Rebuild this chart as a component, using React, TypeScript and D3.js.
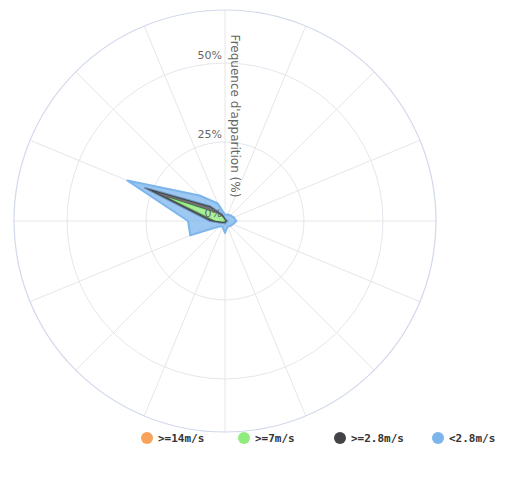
import React from "react";
import * as d3 from "d3";

const directions = ["N","NNE","NE","ENE","E","ESE","SE","SSE","S","SSW","SW","WSW","W","WNW","NW","NNW"];
const seriesNames = [">=14m/s", ">=7m/s", ">=2.8m/s", "<2.8m/s"];
const seriesColors = ["#f7a35c", "#90ed7d", "#434348", "#7cb5ec"];
const orangeValues = [0,0,0,0,0,0,0,0,0,0,0,0,0.1,0.2,0.1,0];
const greenValues = [0.3,0.2,0.2,0.2,0.3,0.2,0.2,0.2,0.3,0.2,0.4,0.6,2.9,19.5,3.4,1.2];
const darkValues = [0.5,0.3,0.3,0.3,0.5,0.3,0.3,0.3,0.5,0.3,0.5,0.9,1.7,7.8,3.1,1.0];
const blueValues = [1.2,1.7,2.0,2.5,2.8,2.2,1.8,1.5,3.0,1.5,1.5,10.4,7.0,6.0,4.8,3.8];
const tickValues = [0, 25, 50];
const yMax = 66.8;
const axisTitle = "Frequence d'apparition (%)";

export default function App() {
  const W = 513, H = 478;
  const cx = 225, cy = 221, R = 211;
  const r = d3.scaleLinear().domain([0, yMax]).range([0, R]);
  const n = directions.length;
  const angle = (i: number) => (i * 2 * Math.PI) / n;

  const all = [orangeValues, greenValues, darkValues, blueValues];
  const stacks: { lo: number[]; hi: number[] }[] = [];
  let base = directions.map(() => 0);
  all.forEach((vals) => {
    const hi = base.map((b, i) => b + vals[i]);
    stacks.push({ lo: base, hi });
    base = hi;
  });

  const area = d3
    .areaRadial<number>()
    .angle((_, i) => angle(i))
    .curve(d3.curveLinearClosed);
  const line = d3
    .lineRadial<number>()
    .angle((_, i) => angle(i))
    .radius((d) => r(d))
    .curve(d3.curveLinearClosed);

  const idx = directions.map((_, i) => i);
  const legendX = [147, 244, 340, 438];

  return (
    <svg width={W} height={H} style={{ position: "absolute", left: 0, top: 0, background: "#fff" }}>
      <g transform={`translate(${cx},${cy})`}>
        {directions.map((d, i) => {
          const a = angle(i);
          return (
            <line key={d} x1={0} y1={0} x2={R * Math.sin(a)} y2={-R * Math.cos(a)} stroke="#e6e6e6" strokeWidth={1} />
          );
        })}
        {tickValues.filter((t) => t > 0).map((t) => (
          <circle key={t} r={r(t)} fill="none" stroke="#e6e6ee" strokeWidth={1} />
        ))}
        <circle r={R} fill="none" stroke="#d3d9ec" strokeWidth={1.2} />
        {stacks.map((s, k) => {
          const a = area
            .innerRadius((_, i) => r(s.lo[i]))
            .outerRadius((_, i) => r(s.hi[i]));
          return (
            <g key={k}>
              <path d={a(idx) || ""} fill={seriesColors[k]} fillOpacity={0.75} fillRule="nonzero" />
              <path d={line(s.hi) || ""} fill="none" stroke={seriesColors[k]} strokeWidth={2} strokeLinejoin="round" />
            </g>
          );
        })}
        {tickValues.map((t) => (
          <text key={t} x={-3} y={-r(t) - 4} textAnchor="end" fontFamily="'Lucida Grande', 'DejaVu Sans', sans-serif" fontSize={11} fill="#666">
            {t}%
          </text>
        ))}
        <text
          transform={`translate(6,${-105}) rotate(90)`}
          textAnchor="middle"
          fontFamily="'DejaVu Sans', sans-serif"
          fontSize={12}
          fill="#666"
        >
          {axisTitle}
        </text>
      </g>
      {seriesNames.map((name, k) => (
        <g key={name} transform={`translate(${legendX[k]},438)`}>
          <circle r={6} fill={seriesColors[k]} />
          <text x={11} y={4} fontFamily="'DejaVu Sans Mono', monospace" fontWeight="bold" fontSize={11} fill="#333">
            {name}
          </text>
        </g>
      ))}
    </svg>
  );
}
